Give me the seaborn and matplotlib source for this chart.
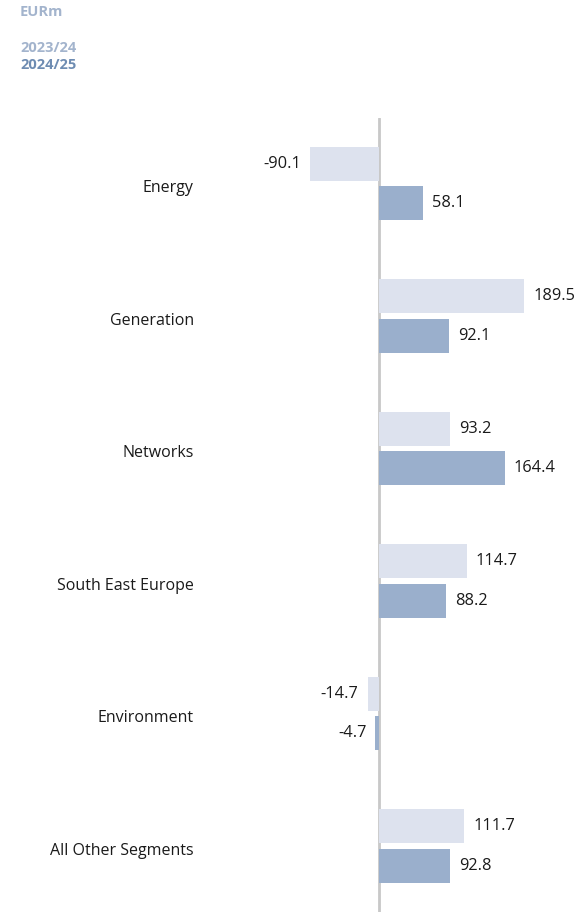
import matplotlib
matplotlib.use("Agg")
import matplotlib.pyplot as plt
import matplotlib.transforms as mtransforms
import seaborn as sns
import pandas as pd

categories = ["Energy", "Generation", "Networks", "South East Europe", "Environment", "All Other Segments"]
series_names = ["2023/24", "2024/25"]
values_2023_24 = [-90.1, 189.5, 93.2, 114.7, -14.7, 111.7]
values_2024_25 = [58.1, 92.1, 164.4, 88.2, -4.7, 92.8]
unit_label = "EURm"

df = pd.DataFrame({
    "segment": categories * 2,
    "year": [series_names[0]] * len(categories) + [series_names[1]] * len(categories),
    "value": values_2023_24 + values_2024_25,
})

sns.set_theme(style="white")
plt.rcParams["font.family"] = ["Open Sans", "DejaVu Sans"]

W, H = 582, 914
fig = plt.figure(figsize=(W / 100, H / 100), dpi=100)
ax_l, ax_r, ax_t, ax_b = 200, 570, 118, 912
ax = fig.add_axes([ax_l / W, 1 - ax_b / H, (ax_r - ax_l) / W, (ax_b - ax_t) / H])

palette = {series_names[0]: "#dde2ee", series_names[1]: "#9aafcc"}
sns.barplot(data=df, y="segment", x="value", hue="year", order=categories,
            hue_order=series_names, palette=palette, orient="h",
            width=0.6, gap=0.145, dodge=True, saturation=1, ax=ax, legend=False,
            linewidth=0)

px_per_unit = 145 / 189.5
zero_px = 379
ax.set_xlim((ax_l - zero_px) / px_per_unit, (ax_r - zero_px) / px_per_unit)
ax.set_ylim(5.498, -0.494)

ax.axvline(0, color="#c8c8c8", lw=2, zorder=0)

for cont in ax.containers:
    for bar in cont:
        yc = bar.get_y() + bar.get_height() / 2
        w = bar.get_width()
        if w >= 0:
            ax.annotate(f"{w:.1f}", (w, yc), xytext=(6.5, 0), textcoords="offset points",
                        ha="left", va="center", fontsize=11.8, color="#1a1a1a")
        else:
            ax.annotate(f"{w:.1f}", (w, yc), xytext=(-6.5, 0), textcoords="offset points",
                        ha="right", va="center", fontsize=11.8, color="#1a1a1a")

ax.set_xlabel("")
ax.set_ylabel("")
ax.set_xticks([])
ax.tick_params(axis="y", length=0, pad=4.5, labelsize=11.5, labelcolor="#1a1a1a")
offset = mtransforms.ScaledTranslation(0, -3 / 100, fig.dpi_scale_trans)
for lbl in ax.get_yticklabels():
    lbl.set_transform(lbl.get_transform() + offset)
for s in ax.spines.values():
    s.set_visible(False)

fig.text(20 / W, 1 - 12 / H, unit_label, fontsize=10.5, fontweight="bold", color="#a3b4cd",
         ha="left", va="center")
fig.text(20 / W, 1 - 48 / H, series_names[0], fontsize=10.5, fontweight="bold", color="#a3b4cd",
         ha="left", va="center")
fig.text(20 / W, 1 - 65 / H, series_names[1], fontsize=10.5, fontweight="bold", color="#6e8cb2",
         ha="left", va="center")

fig.savefig("out.png", dpi=100)
